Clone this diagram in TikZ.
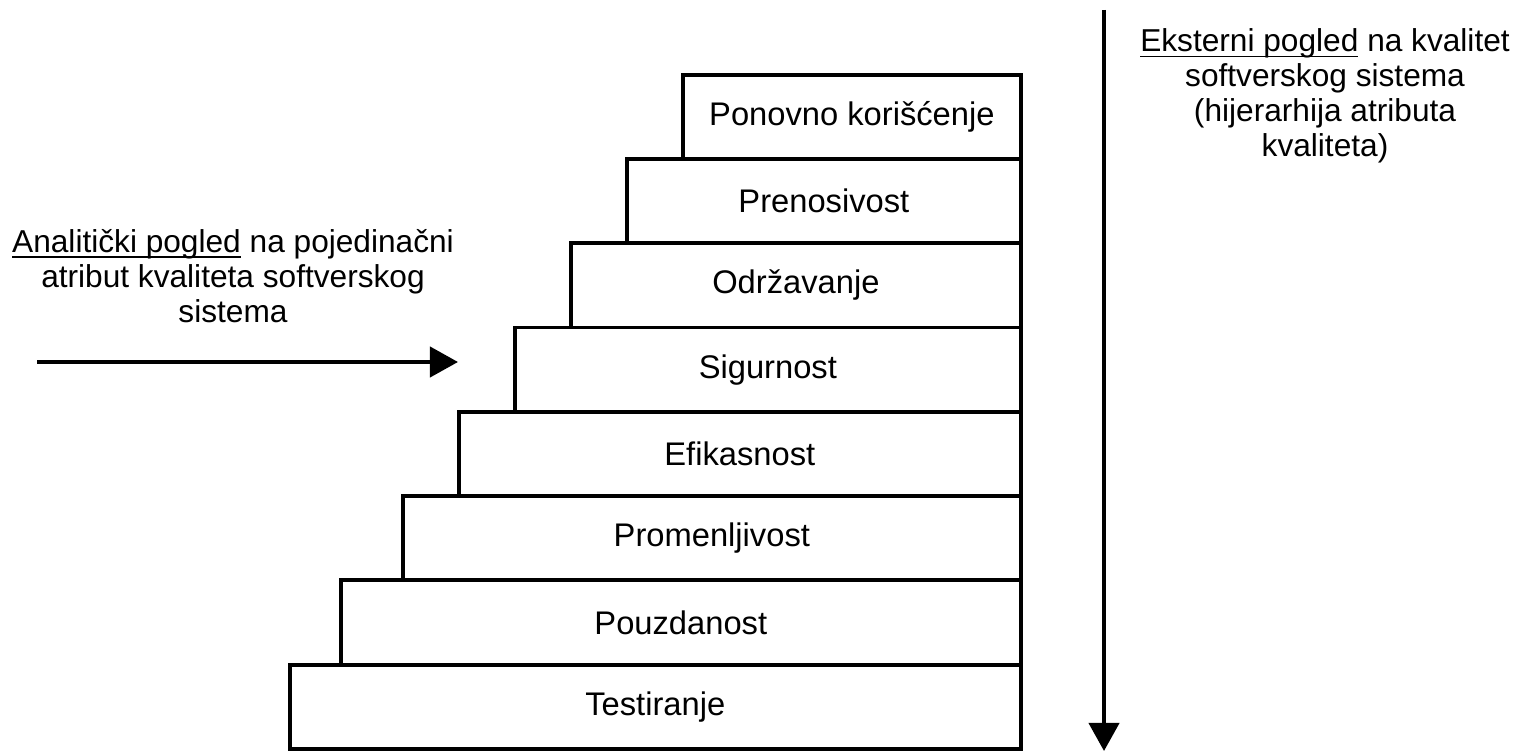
\documentclass[tikz,border=0pt]{standalone}
\usepackage{fontspec}
\setmainfont{Liberation Sans}
\usetikzlibrary{arrows.meta}

\newcommand{\podvuci}[1]{\underline{\smash{#1}}}

\tikzset{
  stepbox/.style={draw, line width=1.1pt, minimum height=0.8425cm, inner sep=0pt, outer sep=0pt,
    anchor=south east, font=\fontsize{9.3}{10}\selectfont},
  bigarrow/.style={line width=1.15pt, -{Triangle[length=0.28cm, width=0.3cm]}},
  viewtext/.style={align=center, font=\fontsize{9}{10}\selectfont}
}

\begin{document}
\begin{tikzpicture}[x=0.01cm, y=-0.01cm]
	\useasboundingbox (0,0) rectangle (1522,752);
	% stepenice
	\node[stepbox, minimum width=7.31cm] (test) at (1021,749) {Testiranje};
	\node[stepbox, minimum width=6.80cm] (pouz) at (test.north east) {Pouzdanost};
	\node[stepbox, minimum width=6.18cm] (prom) at (pouz.north east) {Promenljivost};
	\node[stepbox, minimum width=5.62cm] (efik) at (prom.north east) {Efikasnost};
	\node[stepbox, minimum width=5.06cm] (sigu) at (efik.north east) {Sigurnost};
	\node[stepbox, minimum width=4.50cm] (odrz) at (sigu.north east) {Održavanje};
	\node[stepbox, minimum width=3.94cm] (pren) at (odrz.north east) {Prenosivost};
	\node[stepbox, minimum width=3.38cm] (pono) at (pren.north east) {Ponovno korišćenje};
	% pogledi
	\node[viewtext] (analit) at (233,276) {\podvuci{Analitički pogled} na pojedinačni\\atribut kvaliteta softverskog\\sistema};
	\node[viewtext] (ekst) at (1325,96) {\podvuci{Eksterni pogled} na kvalitet\\softverskog sistema\\(hijerarhija atributa\\kvaliteta)};
	\coordinate (hpoc) at (37,362);
	\coordinate (hkraj) at (458,362);
	\coordinate (vpoc) at (1104,10);
	\coordinate (vkraj) at (1104,751);
	\draw[bigarrow] (hpoc) -- (hkraj);
	\draw[bigarrow] (vpoc) -- (vkraj);
\end{tikzpicture}
\end{document}
